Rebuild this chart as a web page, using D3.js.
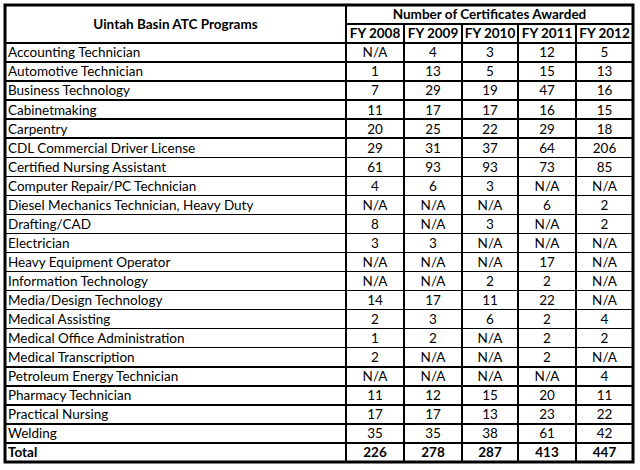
<!DOCTYPE html>
<html><head><meta charset="utf-8">
<script src="https://cdn.jsdelivr.net/npm/d3@7"></script>
<style>html,body{margin:0;padding:0;background:#fff;}</style>
</head><body>
<svg id="t" width="640" height="470"></svg>
<script>
const title = "Uintah Basin ATC Programs";
const groupTitle = "Number of Certificates Awarded";
const years = ["FY 2008","FY 2009","FY 2010","FY 2011","FY 2012"];
const programs = ["Accounting Technician","Automotive Technician","Business Technology","Cabinetmaking","Carpentry","CDL Commercial Driver License","Certified Nursing Assistant","Computer Repair/PC Technician","Diesel Mechanics Technician, Heavy Duty","Drafting/CAD","Electrician","Heavy Equipment Operator","Information Technology","Media/Design Technology","Medical Assisting","Medical Office Administration","Medical Transcription","Petroleum Energy Technician","Pharmacy Technician","Practical Nursing","Welding"];
const fy2008 = ["N/A",1,7,11,20,29,61,4,"N/A",8,3,"N/A","N/A",14,2,1,2,"N/A",11,17,35];
const fy2009 = [4,13,29,17,25,31,93,6,"N/A","N/A",3,"N/A","N/A",17,3,2,"N/A","N/A",12,17,35];
const fy2010 = [3,5,19,17,22,37,93,3,"N/A",3,"N/A","N/A",2,11,6,"N/A","N/A","N/A",15,13,38];
const fy2011 = [12,15,47,16,29,64,73,"N/A",6,"N/A","N/A",17,2,22,2,2,2,"N/A",20,23,61];
const fy2012 = [5,13,16,15,18,206,85,"N/A",2,2,"N/A","N/A","N/A","N/A",4,2,"N/A",4,11,22,42];
const totalLabel = "Total";
const totals = [226,278,287,413,447];

const series = [fy2008, fy2009, fy2010, fy2011, fy2012];
const rows = programs.map((p,i)=>({label:p, values:series.map(s=>s[i]), bold:false}));
rows.push({label:totalLabel, values:totals, bold:true});

const svg = d3.select("#t");
const font = "Lato, 'Open Sans', sans-serif";
const fs = 13.5;
const L = 5, R = 633, T = 5, B = 462;
const firstColRight = 346;
const colEdges = [346, 404, 462, 518, 576, 633];
const headH = 19;
const bodyTop = T + 2*headH;

const y = d3.scaleBand().domain(d3.range(rows.length)).range([bodyTop, B]).paddingInner(0).paddingOuter(0);
const x = d3.scaleBand().domain(years).range([colEdges[0], colEdges[5]]);
// custom column positions (slight width differences)
const colX = (i)=>colEdges[i];
const colW = (i)=>colEdges[i+1]-colEdges[i];

// text
const g = svg.append("g").attr("font-family", font).attr("font-size", fs).attr("fill","#000");

g.append("text").attr("x",(L+firstColRight)/2).attr("y",T+headH).attr("dy","0.36em")
 .attr("text-anchor","middle").attr("font-weight","bold").text(title);
g.append("text").attr("x",(firstColRight+R)/2).attr("y",T+headH/2).attr("dy","0.36em")
 .attr("text-anchor","middle").attr("font-weight","bold").text(groupTitle);
g.selectAll("text.yr").data(years).join("text").attr("class","yr")
 .attr("x",(d,i)=>colX(i)+colW(i)/2).attr("y",T+headH*1.5).attr("dy","0.36em")
 .attr("text-anchor","middle").attr("font-weight","bold").text(d=>d);

const rowG = g.selectAll("g.row").data(rows).join("g").attr("class","row")
 .attr("transform",(d,i)=>`translate(0,${y(i)+y.bandwidth()/2})`)
 .attr("font-weight",d=>d.bold?"bold":"normal");
rowG.append("text").attr("x",L+3).attr("dy","0.36em").text(d=>d.label);
rowG.selectAll("text.v").data(d=>d.values).join("text").attr("class","v")
 .attr("x",(d,i)=>colX(i)+colW(i)/2).attr("dy","0.36em").attr("text-anchor","middle").text(d=>d);

// lines
const lines = svg.append("g").attr("stroke","#000").attr("stroke-width",1.5).attr("shape-rendering","crispEdges");
// header row1 bottom (only under group)
lines.append("line").attr("x1",firstColRight).attr("x2",R).attr("y1",T+headH).attr("y2",T+headH);
// row boundaries
d3.range(rows.length).forEach(i=>{
  const yy = y(i);
  lines.append("line").attr("x1",L).attr("x2",R).attr("y1",yy).attr("y2",yy);
});
// vertical lines
lines.append("line").attr("x1",firstColRight).attr("x2",firstColRight).attr("y1",T).attr("y2",B);
colEdges.slice(1,5).forEach(cx=>{
  lines.append("line").attr("x1",cx).attr("x2",cx).attr("y1",T+headH).attr("y2",B);
});
// outer border
svg.append("rect").attr("x",L).attr("y",T).attr("width",R-L).attr("height",B-T)
 .attr("fill","none").attr("stroke","#000").attr("stroke-width",3);
</script>
</body></html>
